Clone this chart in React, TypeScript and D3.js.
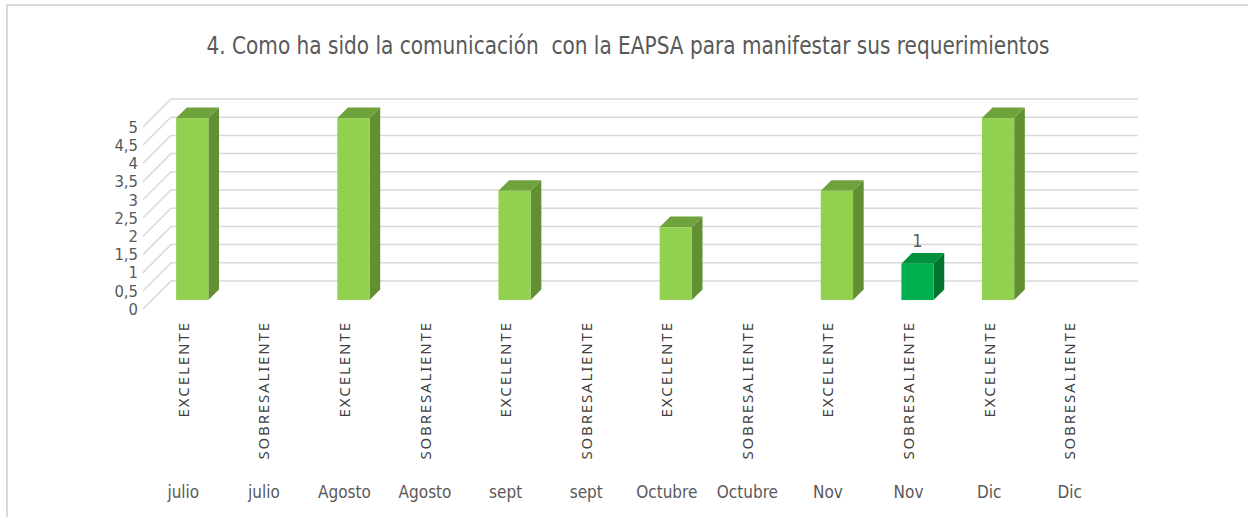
import React, { useEffect, useRef } from 'react';
import * as d3 from 'd3';

// datos del gráfico
const months = ['julio', 'julio', 'Agosto', 'Agosto', 'sept', 'sept', 'Octubre', 'Octubre', 'Nov', 'Nov', 'Dic', 'Dic'];
const ratings = ['EXCELENTE', 'SOBRESALIENTE', 'EXCELENTE', 'SOBRESALIENTE', 'EXCELENTE', 'SOBRESALIENTE', 'EXCELENTE', 'SOBRESALIENTE', 'EXCELENTE', 'SOBRESALIENTE', 'EXCELENTE', 'SOBRESALIENTE'];
const values = [5, 0, 5, 0, 3, 0, 2, 0, 3, 1, 5, 0];
const labelled = [false, false, false, false, false, false, false, false, false, true, false, false];
const yTicks = [0, 0.5, 1, 1.5, 2, 2.5, 3, 3.5, 4, 4.5, 5];
const title = '4. Como ha sido la comunicación  con la EAPSA para manifestar sus requerimientos';

const App = () => {
  const svgRef = useRef<SVGSVGElement>(null);

  useEffect(() => {
    const width = 1248;
    const height = 517;
    const depth = 28; // profundidad 3D (px en x y en y)
    const z0 = 0.32;
    const z1 = 0.7;

    const svg = d3.select(svgRef.current).attr('width', width).attr('height', height);
    svg.selectAll('*').remove();

    const ids = months.map((_, i) => i);
    const x = d3.scaleBand<number>().domain(ids).range([143, 1110]);
    const y = d3.scaleLinear().domain([0, 5]).range([309, 127]);

    const font = 'Liberation Sans Narrow, DejaVu Sans Condensed, Roboto, sans-serif';

    // marco
    svg.append('path')
      .attr('d', `M7,${height + 2} V5 H${width + 2}`)
      .attr('fill', 'none')
      .attr('stroke', '#d9d9d9')
      .attr('stroke-width', 2);

    // título
    svg.append('text')
      .attr('x', 628)
      .attr('y', 54)
      .attr('text-anchor', 'middle')
      .attr('font-family', font)
      .attr('font-size', 25)
      .attr('fill', '#595959')
      .attr('textLength', 843)
      .attr('lengthAdjust', 'spacingAndGlyphs')
      .style('white-space', 'pre')
      .text(title);

    // líneas de la cuadrícula (pared del fondo y pared izquierda)
    const grid = svg.append('g').attr('stroke', '#d9d9d9').attr('stroke-width', 1.5).attr('fill', 'none');
    const [x0, x1] = x.range();
    yTicks.forEach(t => {
      grid.append('path')
        .attr('d', `M${x0},${y(t)} L${x0 + depth},${y(t) - depth} L${x1 + depth},${y(t) - depth}`);
    });

    // etiquetas del eje Y
    svg.append('g')
      .selectAll('text')
      .data(yTicks)
      .join('text')
      .attr('x', 138)
      .attr('y', d => y(d))
      .attr('dy', '0.35em')
      .attr('text-anchor', 'end')
      .attr('font-family', font)
      .attr('font-size', 16.5)
      .attr('fill', '#595959')
      .text(d => String(d).replace('.', ','));

    // barras 3D
    const bw = x.bandwidth() * 0.4;
    const bars = svg.append('g');
    ids.forEach(i => {
      const v = values[i];
      if (v <= 0) return;
      const isExc = ratings[i] === 'EXCELENTE';
      const colors = isExc
        ? { front: '#92d050', side: '#628f31', top: '#70a23b' }
        : { front: '#00b050', side: '#00742f', top: '#00903e' };
      const fx = (x(i) as number) + (x.bandwidth() - bw) / 2 + z0 * depth;
      const fyTop = y(v) - z0 * depth;
      const fyBot = y(0) - z0 * depth;
      const d = (z1 - z0) * depth;
      bars.append('path')
        .attr('d', `M${fx + bw},${fyTop} L${fx + bw + d},${fyTop - d} L${fx + bw + d},${fyBot - d} L${fx + bw},${fyBot} Z`)
        .attr('fill', colors.side);
      bars.append('path')
        .attr('d', `M${fx},${fyTop} L${fx + d},${fyTop - d} L${fx + bw + d},${fyTop - d} L${fx + bw},${fyTop} Z`)
        .attr('fill', colors.top);
      bars.append('rect')
        .attr('x', fx)
        .attr('y', fyTop)
        .attr('width', bw)
        .attr('height', fyBot - fyTop)
        .attr('fill', colors.front);
      if (labelled[i]) {
        bars.append('text')
          .attr('x', fx + bw / 2)
          .attr('y', fyTop - d - 6)
          .attr('text-anchor', 'middle')
          .attr('font-family', font)
          .attr('font-size', 18)
          .attr('fill', '#595959')
          .text(v);
      }
    });

    // etiquetas del eje X (calificación girada y mes)
    const xl = svg.append('g').attr('font-family', font).attr('fill', '#595959');
    ids.forEach(i => {
      const cx = (x(i) as number) + x.bandwidth() / 2;
      xl.append('text')
        .attr('transform', `translate(${cx + 5.5},323) rotate(-90)`)
        .attr('text-anchor', 'end')
        .attr('font-family', 'Noto Sans, sans-serif')
        .attr('font-size', 15)
        .attr('fill', '#404040')
        .attr('textLength', ratings[i].length * 10.5)
        .attr('lengthAdjust', 'spacing')
        .text(ratings[i]);
      xl.append('text')
        .attr('x', cx)
        .attr('y', 498)
        .attr('text-anchor', 'middle')
        .attr('font-size', 17)
        .text(months[i]);
    });
  }, []);

  return (
    <svg ref={svgRef} style={{ position: 'absolute', left: 0, top: 0, background: '#fff' }}></svg>
  );
};

export default App;
